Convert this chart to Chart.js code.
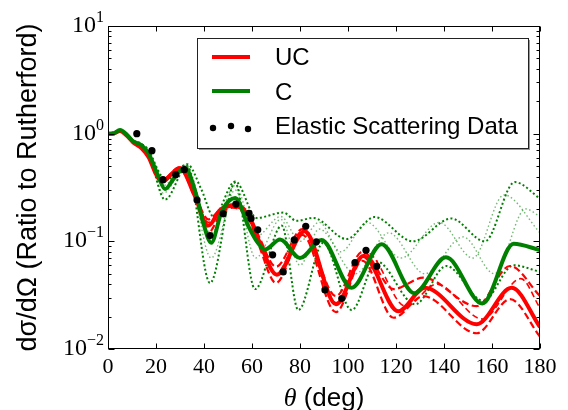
<!DOCTYPE html>
<html><head><meta charset="utf-8">
<script src="https://cdn.jsdelivr.net/npm/chart.js@4.4.1/dist/chart.umd.min.js"></script>
<style>html,body{margin:0;padding:0;background:#fff;}#wrap{width:568px;height:410px;}</style>
</head><body><div id="wrap"><canvas id="c" width="568" height="410"></canvas></div>
<script>
// ---- data (theta in degrees, ratio to Rutherford) ----
const xTickLabels = [0, 20, 40, 60, 80, 100, 120, 140, 160, 180];
const yTickExponents = [-2, -1, 0, 1];

const dataTheta = [12, 18.3, 22.9, 28.2, 31.8, 37.1, 42.5, 48, 53.3, 58.75, 59.6, 62.4, 68.6, 73, 77.6, 82.4, 86.8, 90.4, 97.4, 102.9, 107.5, 112];
const dataVal   = [1.0, 0.695, 0.374, 0.416, 0.463, 0.242, 0.113, 0.18, 0.222, 0.182, 0.163, 0.128, 0.075, 0.052, 0.103, 0.138, 0.099, 0.0354, 0.0294, 0.0634, 0.0826, 0.0586];

const ucTheta = [0, 2, 5, 8, 10.5, 14, 17, 20, 22.4, 30, 36, 41.8, 46.7, 51.5, 56, 59, 63, 70.3, 82, 95, 106.4, 121, 132, 153.6, 168.2, 180];
const ucVal   = [1.0, 1.0, 1.06, 0.95, 0.83, 0.73, 0.6, 0.42, 0.36, 0.48, 0.27, 0.14, 0.195, 0.215, 0.2, 0.166, 0.1, 0.049, 0.124, 0.026, 0.073, 0.0224, 0.037, 0.017, 0.037, 0.016];

const cTheta = [0, 2, 5, 8, 10.5, 14, 16.8, 21, 23.75, 28, 32, 37, 39.7, 43, 47.4, 53, 58.5, 62, 65.4, 71.7, 80, 89, 101.5, 114, 127.6, 140.8, 156, 169, 180];
const cVal   = [1.0, 1.0, 1.08, 0.97, 0.85, 0.78, 0.66, 0.4, 0.306, 0.4, 0.48, 0.26, 0.148, 0.097, 0.19, 0.253, 0.138, 0.1, 0.084, 0.104, 0.070, 0.103, 0.037, 0.094, 0.033, 0.071, 0.0264, 0.095, 0.083];

// red dashed family
const rdTheta = [0, 2, 5, 8, 10.5, 14, 17, 20, 22.4, 30, 36, 41.8, 47, 52, 56, 59, 63, 70, 81, 95, 106, 119, 131.4, 153.6, 167.5, 180];
const rd1Val  = [1.0, 1.0, 1.06, 0.95, 0.83, 0.74, 0.61, 0.43, 0.37, 0.49, 0.28, 0.16, 0.2, 0.22, 0.21, 0.175, 0.11, 0.058, 0.13, 0.031, 0.08, 0.036, 0.046, 0.025, 0.059, 0.031];
const rd2Val  = [1.0, 1.0, 1.06, 0.95, 0.83, 0.72, 0.59, 0.41, 0.35, 0.47, 0.26, 0.12, 0.18, 0.205, 0.19, 0.155, 0.09, 0.041, 0.115, 0.022, 0.066, 0.0195, 0.031, 0.014, 0.029, 0.013];
const rd3Theta = [0, 2, 5, 8, 10.5, 14, 17, 20, 22.4, 30, 36, 41.8, 47, 52, 56, 59, 63, 70, 81, 95, 108, 124, 137, 156, 172, 180];
const rd3Val   = [1.0, 1.0, 1.06, 0.95, 0.83, 0.73, 0.6, 0.42, 0.36, 0.48, 0.27, 0.15, 0.19, 0.21, 0.2, 0.165, 0.1, 0.05, 0.125, 0.027, 0.078, 0.025, 0.04, 0.019, 0.045, 0.024];

// green dotted family
const gd1Theta = [0, 2, 5, 8, 10.5, 14, 17, 21, 24, 33, 39, 44, 53, 62, 73, 78.6, 85.5, 99.4, 111, 127, 143, 157, 169.5, 180];
const gd1Val   = [1.0, 1.0, 1.08, 0.97, 0.86, 0.8, 0.7, 0.45, 0.37, 0.52, 0.3, 0.17, 0.36, 0.165, 0.185, 0.155, 0.165, 0.105, 0.168, 0.1, 0.163, 0.1, 0.355, 0.25];
const gd2Theta = [0, 2, 5, 8, 10.5, 14, 17, 23.75, 33, 42.5, 53, 61.25, 72.4, 79.3, 89.7, 101.5, 112, 128, 141, 156.4, 169, 180];
const gd2Val   = [1.0, 1.0, 1.08, 0.97, 0.86, 0.8, 0.65, 0.244, 0.5, 0.041, 0.35, 0.036, 0.14, 0.023, 0.097, 0.023, 0.065, 0.026, 0.059, 0.028, 0.06, 0.052];
const gd3Theta = [0, 5, 10.5, 14, 17, 23, 32.5, 43, 53, 61.5, 72, 80, 88, 103, 117, 132, 148, 161, 174, 180];
const gd3Val   = [1.0, 1.08, 0.86, 0.79, 0.67, 0.28, 0.5, 0.07, 0.3, 0.07, 0.16, 0.06, 0.13, 0.05, 0.12, 0.05, 0.11, 0.05, 0.2, 0.17];
const gd4Theta = [0, 5, 10.5, 14, 17, 23, 32.5, 43, 53, 61.5, 72, 80, 88, 97, 108, 122, 138, 152, 165, 180];
const gd4Val   = [1.0, 1.08, 0.86, 0.8, 0.69, 0.33, 0.51, 0.12, 0.33, 0.11, 0.17, 0.1, 0.15, 0.08, 0.15, 0.07, 0.15, 0.07, 0.27, 0.12];

// ---- build ----
const pts = (t, v) => t.map((x, i) => ({ x: x, y: v[i] }));
const RED = '#ff0000', GREEN = '#008000';
function lineDs(label, t, v, color, width, dash) {
  return { label: label, data: pts(t, v), borderColor: color, borderWidth: width, borderDash: dash || [],
           pointRadius: 0, fill: false, cubicInterpolationMode: 'monotone' };
}
const datasets = [
  { label: 'Elastic Scattering Data', data: pts(dataTheta, dataVal), showLine: false, pointRadius: 3.6,
    pointBackgroundColor: '#000', pointBorderColor: '#000', pointBorderWidth: 0, borderColor: '#000' },
  lineDs('C', cTheta, cVal, GREEN, 4),
  lineDs('UC', ucTheta, ucVal, RED, 4),
  lineDs('UC var 1', rdTheta, rd1Val, RED, 2.2, [7, 3.5]),
  lineDs('UC var 2', rdTheta, rd2Val, RED, 2.2, [7, 3.5]),
  lineDs('UC var 3', rd3Theta, rd3Val, RED, 1.6, [6, 3.5]),
  lineDs('C var 1', gd1Theta, gd1Val, GREEN, 2, [2, 2.4]),
  lineDs('C var 2', gd2Theta, gd2Val, GREEN, 2, [2, 2.4]),
  lineDs('C var 3', gd3Theta, gd3Val, 'rgba(0,128,0,0.55)', 1.4, [1.5, 2.5]),
  lineDs('C var 4', gd4Theta, gd4Val, 'rgba(0,128,0,0.55)', 1.4, [1.5, 2.5])
];

const deco = {
  id: 'deco',
  afterDatasetsDraw(chart) {
    const ctx = chart.ctx, a = chart.chartArea, xs = chart.scales.x, ys = chart.scales.y;
    ctx.save();
    ctx.strokeStyle = '#000'; ctx.lineWidth = 1;
    const L = Math.round(a.left) + 0.5, R = Math.round(a.right) - 0.5, T = Math.round(a.top) + 0.5, B = Math.round(a.bottom) - 0.5;
    ctx.strokeRect(L, T, R - L, B - T);
    ctx.beginPath();
    xTickLabels.forEach(v => {
      const px = Math.round(xs.getPixelForValue(v)) + 0.5;
      ctx.moveTo(px, B); ctx.lineTo(px, B - 5);
      ctx.moveTo(px, T); ctx.lineTo(px, T + 5);
    });
    for (let e = yTickExponents[0]; e <= yTickExponents[yTickExponents.length - 1]; e++) {
      const py = Math.round(ys.getPixelForValue(Math.pow(10, e))) + 0.5;
      ctx.moveTo(L, py); ctx.lineTo(L + 6, py);
      ctx.moveTo(R, py); ctx.lineTo(R - 6, py);
      if (e < yTickExponents[yTickExponents.length - 1]) {
        for (let m = 2; m <= 9; m++) {
          const pm = Math.round(ys.getPixelForValue(m * Math.pow(10, e))) + 0.5;
          ctx.moveTo(L, pm); ctx.lineTo(L + 3, pm);
          ctx.moveTo(R, pm); ctx.lineTo(R - 3, pm);
        }
      }
    }
    ctx.stroke();
    ctx.restore();
  },
  afterDraw(chart) {
    const ctx = chart.ctx, a = chart.chartArea, xs = chart.scales.x, ys = chart.scales.y;
    ctx.save();
    ctx.fillStyle = '#000';
    // x tick labels
    ctx.font = '22px "Liberation Serif"';
    ctx.textAlign = 'center'; ctx.textBaseline = 'alphabetic';
    xTickLabels.forEach(v => ctx.fillText(String(v), xs.getPixelForValue(v), a.bottom + 24));
    // y tick labels 10^n
    yTickExponents.forEach(e => {
      const py = ys.getPixelForValue(Math.pow(10, e));
      const ex = e < 0 ? '\u2212' + Math.abs(e) : String(e);
      ctx.font = '16px "Liberation Serif"';
      const we = ctx.measureText(ex).width;
      ctx.font = '24px "Liberation Serif"';
      const wb = ctx.measureText('10').width;
      const xr = a.left - 4;
      ctx.textAlign = 'left';
      ctx.fillText('10', xr - we - wb, py + 6);
      ctx.font = '16px "Liberation Serif"';
      ctx.fillText(ex, xr - we, py - 4);
    });
    // y title
    ctx.save();
    ctx.translate(29, (a.top + a.bottom) / 2);
    ctx.rotate(-Math.PI / 2);
    ctx.font = '27px "Liberation Sans"';
    ctx.textAlign = 'center'; ctx.textBaseline = 'middle';
    ctx.fillText('d\u03c3/d\u03a9 (Ratio to Rutherford)', 0, 0);
    ctx.restore();
    // x title
    ctx.font = 'italic 26px "Liberation Serif"';
    const wt = ctx.measureText('\u03b8').width;
    ctx.font = '26px "Liberation Sans"';
    const wr = ctx.measureText(' (deg)').width;
    const cx = (a.left + a.right) / 2, x0 = cx - (wt + wr) / 2;
    ctx.textAlign = 'left'; ctx.textBaseline = 'alphabetic';
    ctx.font = 'italic 26px "Liberation Serif"';
    ctx.fillText('\u03b8', x0, 406);
    ctx.font = '26px "Liberation Sans"';
    ctx.fillText(' (deg)', x0 + wt, 406);
    // legend
    const bx = 197, by = 38, bw = 331, bh = 110;
    ctx.fillStyle = '#999'; ctx.fillRect(bx + 2, by + 2, bw, bh);
    ctx.fillStyle = '#fff'; ctx.fillRect(bx, by, bw, bh);
    ctx.strokeStyle = '#222'; ctx.lineWidth = 1; ctx.strokeRect(bx + 0.5, by + 0.5, bw, bh);
    ctx.lineCap = 'butt';
    ctx.lineWidth = 4;
    ctx.strokeStyle = RED; ctx.beginPath(); ctx.moveTo(212, 57); ctx.lineTo(250, 57); ctx.stroke();
    ctx.strokeStyle = GREEN; ctx.beginPath(); ctx.moveTo(212, 91); ctx.lineTo(250, 91); ctx.stroke();
    ctx.fillStyle = '#000';
    [[213, 128], [231, 126], [248, 129]].forEach(p => { ctx.beginPath(); ctx.arc(p[0], p[1], 3.2, 0, Math.PI * 2); ctx.fill(); });
    ctx.font = '24px "Liberation Sans"';
    ctx.textAlign = 'left'; ctx.textBaseline = 'alphabetic';
    ctx.fillText('UC', 275, 65);
    ctx.fillText('C', 275, 100);
    ctx.fillText('Elastic Scattering Data', 275, 134);
    ctx.restore();
  }
};

new Chart(document.getElementById('c'), {
  type: 'line',
  data: { datasets: datasets },
  options: {
    responsive: false, animation: false, devicePixelRatio: 1,
    layout: { padding: { left: 108, top: 26, right: 28, bottom: 61 } },
    plugins: { legend: { display: false }, tooltip: { enabled: false } },
    scales: {
      x: { type: 'linear', min: 0, max: 180, display: false },
      y: { type: 'logarithmic', min: 0.01, max: 10, display: false }
    }
  },
  plugins: [deco]
});
</script></body></html>
